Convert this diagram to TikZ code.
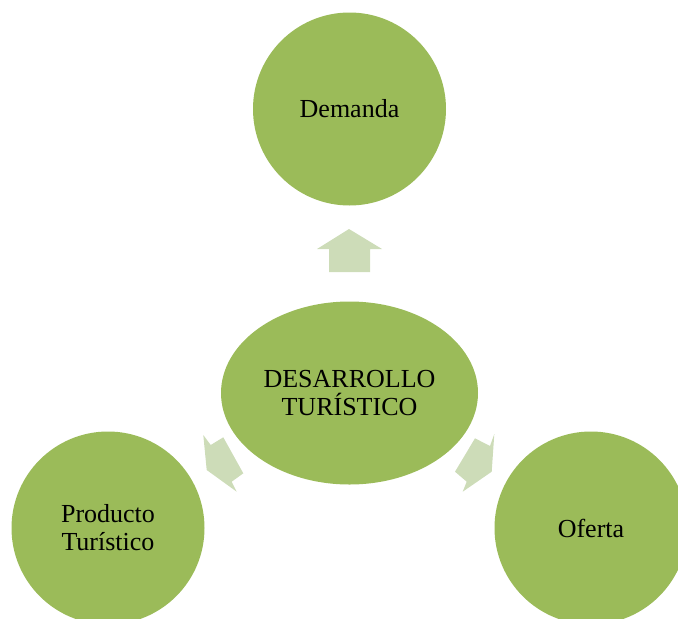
\documentclass[tikz,border=0pt]{standalone}
\usepackage{fontspec}
\setmainfont{Liberation Serif}
\usepackage{tikz}
\usetikzlibrary{shapes.geometric}
\definecolor{leaf}{HTML}{9BBB59}
\definecolor{pale}{HTML}{CDDCB8}
\tikzset{
  txt/.style={text=black, align=center, font=\fontsize{26}{28}\selectfont},
  bubble/.style={txt, circle, fill=leaf, minimum size=193pt, inner sep=0pt},
  hub/.style={txt, ellipse, fill=leaf, minimum width=257pt, minimum height=183pt, inner sep=0pt},
  blockarrow/.style={fill=pale},
}

\begin{document}
\begin{tikzpicture}[x=1pt,y=-1pt]
  \useasboundingbox (0,0) rectangle (678,619);

  \node[hub]    (hub)  at (349.5,393) {DESARROLLO\\TURÍSTICO};
  \node[bubble] (dem)  at (349.5,109) {Demanda};
  \node[bubble] (prod) at (108,528)   {Producto\\Turístico};
  \node[bubble] (ofer) at (591,528)   {Oferta};

  % arrows out of the hub
  \fill[blockarrow] (317,249) -- (349,229) -- (382,249) -- (370,249)
    -- (370,272) -- (329,272) -- (329,249) -- cycle;
  \fill[blockarrow] (206.7,470) -- (203.3,435) -- (210.7,445) -- (223.3,437.3)
    -- (243.3,473.3) -- (231.7,481.7) -- (236.7,491.7) -- cycle;
  \fill[blockarrow] (491.7,471.7) -- (494.3,434) -- (490,446) -- (475,438.3)
    -- (455,471.7) -- (466.7,481.7) -- (462.7,491.7) -- cycle;
\end{tikzpicture}
\end{document}
